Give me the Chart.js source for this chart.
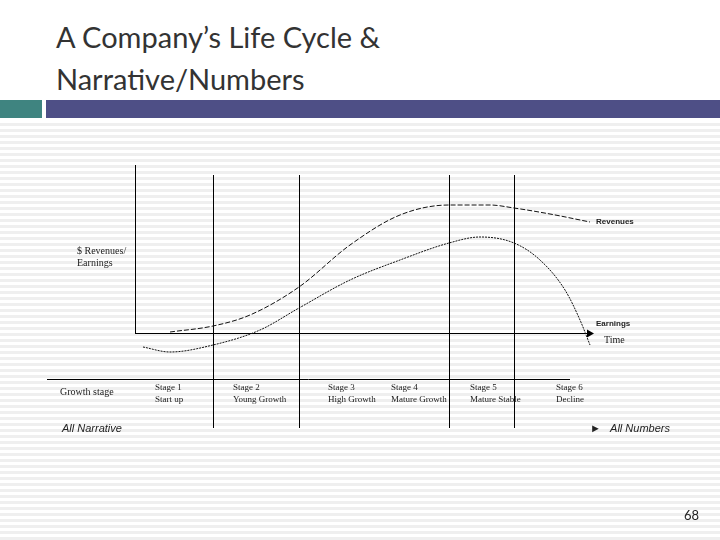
<!DOCTYPE html>
<html><head><meta charset="utf-8">
<script src="https://cdn.jsdelivr.net/npm/chart.js"></script>
<style>
body{margin:0;width:720px;height:540px;position:relative;overflow:hidden;background:#fff;font-family:"Liberation Serif",serif}
#stripes{position:absolute;left:0;top:120px;width:720px;height:420px;background:repeating-linear-gradient(#fff 0 3px,#efefef 3px 6px)}
#title{position:absolute;left:56px;top:16px;font-family:Lato,"Open Sans",sans-serif;font-size:29px;line-height:42px;color:#333}
.bar{position:absolute;top:100px;height:18px}
.t{position:absolute;font-size:10px;color:#222;line-height:12px;white-space:nowrap}
.s{font-family:"Liberation Sans",Arial,sans-serif;font-size:8px;font-weight:bold}
.i{font-family:"Liberation Sans",Arial,sans-serif;font-style:italic;font-size:11px}
#c{position:absolute;left:40px;top:160px}
</style></head><body>
<div id="stripes"></div>
<div id="title">A Company’s Life Cycle &amp;<br>Narrative/Numbers</div>
<div class="bar" style="left:0;width:42px;background:#3f8480"></div>
<div class="bar" style="left:46px;width:674px;background:#4e4f86"></div>
<canvas id="c" width="640" height="280"></canvas>
<div class="t" style="left:77px;top:245px">$ Revenues/<br>Earnings</div>
<div class="t s" style="left:596px;top:216px">Revenues</div>
<div class="t s" style="left:596px;top:318px">Earnings</div>
<div class="t" style="left:604px;top:334px">Time</div>
<div class="t" style="left:60px;top:386px">Growth stage</div>
<div class="t" style="left:155px;top:381px;font-size:9px">Stage 1<br>Start up</div>
<div class="t" style="left:233px;top:381px;font-size:9px">Stage 2<br>Young Growth</div>
<div class="t" style="left:328px;top:381px;font-size:9px">Stage 3<br>High Growth</div>
<div class="t" style="left:391px;top:381px;font-size:9px">Stage 4<br>Mature Growth</div>
<div class="t" style="left:470px;top:381px;font-size:9px">Stage 5<br>Mature Stable</div>
<div class="t" style="left:556px;top:381px;font-size:9px">Stage 6<br>Decline</div>
<div class="t i" style="left:62px;top:422px">All Narrative</div>
<div class="t i" style="left:590px;top:422px">►&nbsp;&nbsp;&nbsp;All Numbers</div>
<div style="position:absolute;left:684px;top:507px;font-family:Lato,sans-serif;font-size:13px;color:#222">68</div>
<script>
const revX=[170,213,250,299,350,400,449,490,514,550,590];
const revY=[1,7,18,46,88,118,128,128,125,119,111];
const earnX=[143,170,213,260,299,350,400,449,480,514,540,565,580,590];
const earnY=[-14,-19,-12,3,25,53,73,90,96,90,73,43,13,-12];
const stageX=[213.5,299.5,449.5,514.5];
const pts=(xs,ys)=>xs.map((x,i)=>({x,y:ys[i]}));
const ds=[
 {data:pts(revX,revY),borderColor:'#111',borderWidth:1,borderDash:[5,2],cubicInterpolationMode:'monotone'},
 {data:pts(earnX,earnY),borderColor:'#111',borderWidth:1,borderDash:[2,1],cubicInterpolationMode:'monotone'},
 {data:[{x:135.5,y:0},{x:135.5,y:168}],borderColor:'#000',borderWidth:1},
 {data:[{x:135,y:-0.5},{x:588,y:-0.5}],borderColor:'#000',borderWidth:1},
 {data:[{x:47,y:-46.5},{x:570,y:-46.5}],borderColor:'#000',borderWidth:1}
];
stageX.forEach(x=>ds.push({data:[{x,y:158},{x,y:-95}],borderColor:'#000',borderWidth:1}));
ds.forEach(d=>{d.pointRadius=0;d.fill=false;});
const arrow={id:'arrow',afterDatasetsDraw(ch){const c=ch.ctx,x=ch.scales.x,y=ch.scales.y;const px=x.getPixelForValue(588),py=y.getPixelForValue(-0.5);
c.save();c.fillStyle='#000';c.beginPath();c.moveTo(px+6,py);c.lineTo(px-1,py-4);c.lineTo(px-1,py+4);c.fill();c.restore();}};
new Chart(document.getElementById('c'),{type:'line',data:{datasets:ds},plugins:[arrow],
options:{responsive:false,animation:false,layout:{padding:0},plugins:{legend:{display:false},tooltip:{enabled:false}},
scales:{x:{type:'linear',min:40,max:680,display:false},y:{min:-107,max:173,display:false}}}});
</script>
</body></html>
